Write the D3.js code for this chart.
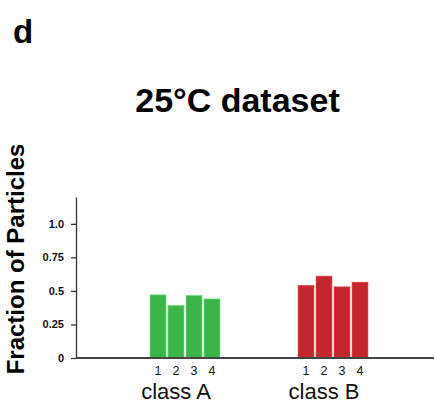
<!DOCTYPE html>
<html>
<head>
<meta charset="utf-8">
<script src="https://cdn.jsdelivr.net/npm/d3@7"></script>
<style>
  html, body { margin: 0; padding: 0; background: #fff; }
  svg { display: block; font-family: "Liberation Sans", Arial, sans-serif; }
  .y-axis text { font-weight: bold; font-size: 11px; fill: #111; }
  .y-axis line, .y-axis path { stroke: #333; stroke-width: 1.3; }
</style>
</head>
<body>
<div id="chart"></div>
<script>
const classes = ["class A", "class B"];
const subsets = ["1", "2", "3", "4"];
const classAValues = [0.47, 0.39, 0.465, 0.44];
const classBValues = [0.54, 0.61, 0.53, 0.565];
const yTicks = [0, 0.25, 0.5, 0.75, 1.0];
const yTickLabels = ["0", "0.25", "0.5", "0.75", "1.0"];
const classColors = ["#3bb54a", "#c1272d"];

const width = 435;
const height = 406;
const margin = { top: 197, right: 1, bottom: 48, left: 76 };

const svg = d3.select("#chart").append("svg").attr("width", width).attr("height", height);

const y = d3.scaleLinear().domain([0, 1.2]).range([height - margin.bottom, margin.top]);
const x = d3.scaleBand().domain(classes).range([111, 407]).padding(0);
const inner = d3.scaleBand().domain(subsets).range([-36, 36]).paddingInner(0.12).paddingOuter(0.06);

const series = [classAValues, classBValues];

// panel letter + title
svg.append("text").attr("x", 13).attr("y", 43).attr("font-size", 33).attr("font-weight", "bold").text("d");
svg.append("text").attr("x", 237.5).attr("y", 112).attr("text-anchor", "middle")
  .attr("font-size", 34).attr("font-weight", "bold").text("25°C dataset");

// y label
const yMid = 259;
svg.append("text")
  .attr("transform", `translate(24,${yMid}) rotate(-90)`)
  .attr("text-anchor", "middle")
  .attr("font-size", 24)
  .attr("font-weight", "bold")
  .text("Fraction of Particles");

// bars
classes.forEach((cls, ci) => {
  const cx = x(cls) + x.bandwidth() / 2;
  const g = svg.append("g").attr("transform", `translate(${cx},0)`);
  g.selectAll("rect")
    .data(series[ci])
    .enter()
    .append("rect")
    .attr("x", (d, i) => inner(subsets[i]))
    .attr("width", inner.bandwidth())
    .attr("y", (d) => y(d))
    .attr("height", (d) => y(0) - y(d))
    .attr("fill", classColors[ci])
    .attr("stroke", d3.color(classColors[ci]).brighter(0.6))
    .attr("stroke-width", 0.6);

  g.selectAll("text.num")
    .data(subsets)
    .enter()
    .append("text")
    .attr("class", "num")
    .attr("x", (d) => inner(d) + inner.bandwidth() / 2)
    .attr("y", y(0) + 17)
    .attr("text-anchor", "middle")
    .attr("font-size", 12.5)
    .attr("fill", "#111")
    .text((d) => d);

  svg.append("text")
    .attr("x", cx - 9)
    .attr("y", 398.5)
    .attr("text-anchor", "middle")
    .attr("font-size", 22)
    .attr("fill", "#111")
    .text(cls);
});

// y axis
svg.append("g")
  .attr("class", "y-axis")
  .attr("transform", `translate(${margin.left},0)`)
  .call(d3.axisLeft(y).tickValues(yTicks).tickFormat((d, i) => yTickLabels[i]).tickSize(5).tickSizeOuter(0).tickPadding(7));

// baseline
svg.append("line")
  .attr("x1", margin.left)
  .attr("x2", width - margin.right)
  .attr("y1", y(0))
  .attr("y2", y(0))
  .attr("stroke", "#444")
  .attr("stroke-width", 1.8);
</script>
</body>
</html>
